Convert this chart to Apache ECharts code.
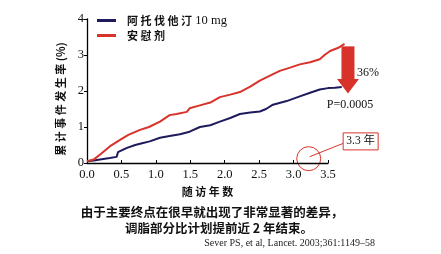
<!DOCTYPE html>
<html><head><meta charset="utf-8">
<script src="https://cdn.jsdelivr.net/npm/echarts@6/dist/echarts.min.js"></script>
<style>html,body{margin:0;padding:0;background:#fff}#c{width:441px;height:254px}</style>
</head><body><div id="c"></div>
<script>
const seriesNames = ['阿托伐他汀 10 mg', '安慰剂'];
const xTicks = [0, 0.5, 1.0, 1.5, 2.0, 2.5, 3.0, 3.5];
const yTicks = [0, 1, 2, 3, 4];
const yAxisTitle = '累计事件发生率 (%)';
const xAxisTitle = '随访年数';
const atorvastatin = [[0,0.05],[0.1,0.07],[0.19,0.1],[0.33,0.14],[0.43,0.17],[0.45,0.3],[0.48,0.33],[0.58,0.42],[0.7,0.5],[0.8,0.55],[0.91,0.6],[1.06,0.7],[1.2,0.75],[1.35,0.8],[1.49,0.87],[1.64,1.0],[1.79,1.05],[1.93,1.15],[2.08,1.25],[2.22,1.36],[2.37,1.4],[2.51,1.43],[2.6,1.5],[2.7,1.62],[2.9,1.72],[3.09,1.85],[3.24,1.95],[3.38,2.04],[3.5,2.08],[3.6,2.09],[3.7,2.11]];
const placebo = [[0,0.05],[0.1,0.1],[0.2,0.25],[0.33,0.46],[0.48,0.64],[0.6,0.78],[0.77,0.92],[0.9,1.0],[1.06,1.15],[1.2,1.33],[1.3,1.36],[1.45,1.42],[1.49,1.52],[1.64,1.6],[1.79,1.68],[1.93,1.83],[2.08,1.9],[2.22,1.97],[2.37,2.12],[2.51,2.29],[2.65,2.42],[2.8,2.56],[2.95,2.65],[3.09,2.74],[3.24,2.8],[3.38,2.88],[3.45,3.0],[3.53,3.11],[3.65,3.2],[3.74,3.31]];
const reductionLabel = '36%';
const pLabel = 'P=0.0005';
const endLabel = '3.3 年';
const caption1 = '由于主要终点在很早就出现了非常显著的差异，';
const caption2 = '调脂部分比计划提前近 2 年结束。';
const citation = 'Sever PS, et al, Lancet. 2003;361:1149–58';

(function () {
const blue = '#1e1b5c', red = '#d8332a';
const chart = echarts.init(document.getElementById('c'));
const serif = 'Liberation Serif';
const sans = 'Noto Sans CJK SC';
const spaced = s => s.split('').join(' ');
const gLeft = 87, gW = 241, xMax = 3.5, xMax2 = 3.9;
chart.setOption({
  animation: false,
  grid: [
    {left: gLeft, top: 19, width: gW, height: 144},
    {left: gLeft, top: 19, width: gW * xMax2 / xMax, height: 144}
  ],
  legend: {
    orient: 'vertical', left: 92, top: 9, itemGap: 3,
    icon: 'rect', itemWidth: 19, itemHeight: 3,
    data: seriesNames,
    formatter: name => {
      const m = name.match(/^(\S+)(\s+(.*))?$/);
      return '{c|' + spaced(m[1]) + '}' + (m[3] ? ' {s|' + m[3] + '}' : '');
    },
    textStyle: {padding: [0,0,0,6],
      rich: {c: {fontFamily: sans, fontWeight: 'bold', fontSize: 11, color: '#111'},
             s: {fontFamily: serif, fontSize: 12.5, color: '#111'}}}
  },
  xAxis: [{
    gridIndex: 0, type: 'value', min: 0, max: xMax, interval: 0.5,
    name: spaced(xAxisTitle), nameLocation: 'middle', nameGap: 20,
    nameTextStyle: {fontFamily: sans, fontWeight: 'bold', fontSize: 11, color: '#111'},
    axisLine: {lineStyle: {color: '#000', width: 1.3}},
    axisTick: {inside: true, length: 3, lineStyle: {color: '#000'}},
    splitLine: {show: false},
    axisLabel: {fontFamily: serif, fontSize: 12.5, color: '#111', margin: 5,
      formatter: v => xTicks.includes(v) ? v.toFixed(1) : ''}
  }, {
    gridIndex: 1, type: 'value', min: 0, max: xMax2, show: false
  }],
  yAxis: [{
    gridIndex: 0, type: 'value', min: 0, max: 4, interval: 1,
    axisLine: {show: true, lineStyle: {color: '#000', width: 1.3}},
    axisTick: {show: true, length: 3, lineStyle: {color: '#000'}},
    splitLine: {show: false},
    axisLabel: {fontFamily: serif, fontSize: 12.5, color: '#111', margin: 3,
      formatter: v => yTicks.includes(v) ? String(v) : ''}
  }, {
    gridIndex: 1, type: 'value', min: 0, max: 4, show: false
  }],
  series: [
    {name: seriesNames[0], type: 'line', xAxisIndex: 1, yAxisIndex: 1, data: atorvastatin, showSymbol: false,
     lineStyle: {color: blue, width: 2}, itemStyle: {color: blue}},
    {name: seriesNames[1], type: 'line', xAxisIndex: 1, yAxisIndex: 1, data: placebo, showSymbol: false,
     lineStyle: {color: red, width: 2}, itemStyle: {color: red}}
  ]
});

const P = (x, y) => chart.convertToPixel({gridIndex: 1}, [x, y]);
const aTop = P(3.79, 3.24), headStart = P(3.79, 2.33), tip = P(3.79, 1.93);
const circ = P(3.22, 0.12);
const boxL = P(3.72, 0.6);
const bx = boxL[0] + 17.5, by = boxL[1];
chart.setOption({graphic: [
  {type: 'text', x: 61, y: 99, rotation: Math.PI / 2,
   style: {text: yAxisTitle.replace(/([^\s(%)])(?=[^\s(%)])/g, '$1 '), font: 'bold 11px "Noto Sans CJK SC"', fill: '#111', align: 'center', verticalAlign: 'middle'}},
  {type: 'rect', shape: {x: aTop[0]-6.5, y: aTop[1], width: 13, height: headStart[1]-aTop[1]}, style: {fill: red}},
  {type: 'polygon', shape: {points: [[aTop[0]-11, headStart[1]], [aTop[0]+11, headStart[1]], [tip[0], tip[1]]]}, style: {fill: red}},
  {type: 'text', x: aTop[0]+9, y: P(0, 2.5)[1], style: {text: reductionLabel, font: '12px "Liberation Serif"', fill: '#111', verticalAlign: 'middle'}},
  {type: 'text', x: tip[0]+2, y: tip[1]+11, style: {text: pLabel, font: '12px "Liberation Serif"', fill: '#111', align: 'center', verticalAlign: 'middle'}},
  {type: 'circle', shape: {cx: circ[0], cy: circ[1], r: 12}, style: {fill: 'none', stroke: red, lineWidth: 1}},
  {type: 'line', shape: {x1: circ[0]+1, y1: circ[1]-2, x2: bx-17.5, y2: by+2}, style: {stroke: red, lineWidth: 1}},
  {type: 'rect', shape: {x: bx-17.5, y: by-8.5, width: 35, height: 17}, style: {fill: '#fff', stroke: red, lineWidth: 1}},
  {type: 'text', x: bx, y: by, style: {text: endLabel, font: '11.5px "Liberation Serif", "Noto Sans CJK SC"', fill: '#111', align: 'center', verticalAlign: 'middle'}},
  {type: 'text', x: 212, y: 212, style: {text: caption1, font: 'bold 12.5px "Noto Sans CJK SC"', fill: '#111', align: 'center', verticalAlign: 'middle'}},
  {type: 'text', x: 219, y: 228, style: {text: caption2, font: 'bold 12.5px "Noto Sans CJK SC"', fill: '#111', align: 'center', verticalAlign: 'middle'}},
  {type: 'text', x: 375, y: 243, style: {text: citation, font: '10px "Liberation Serif"', fill: '#222', align: 'right', verticalAlign: 'middle'}}
]});
})();
</script></body></html>
